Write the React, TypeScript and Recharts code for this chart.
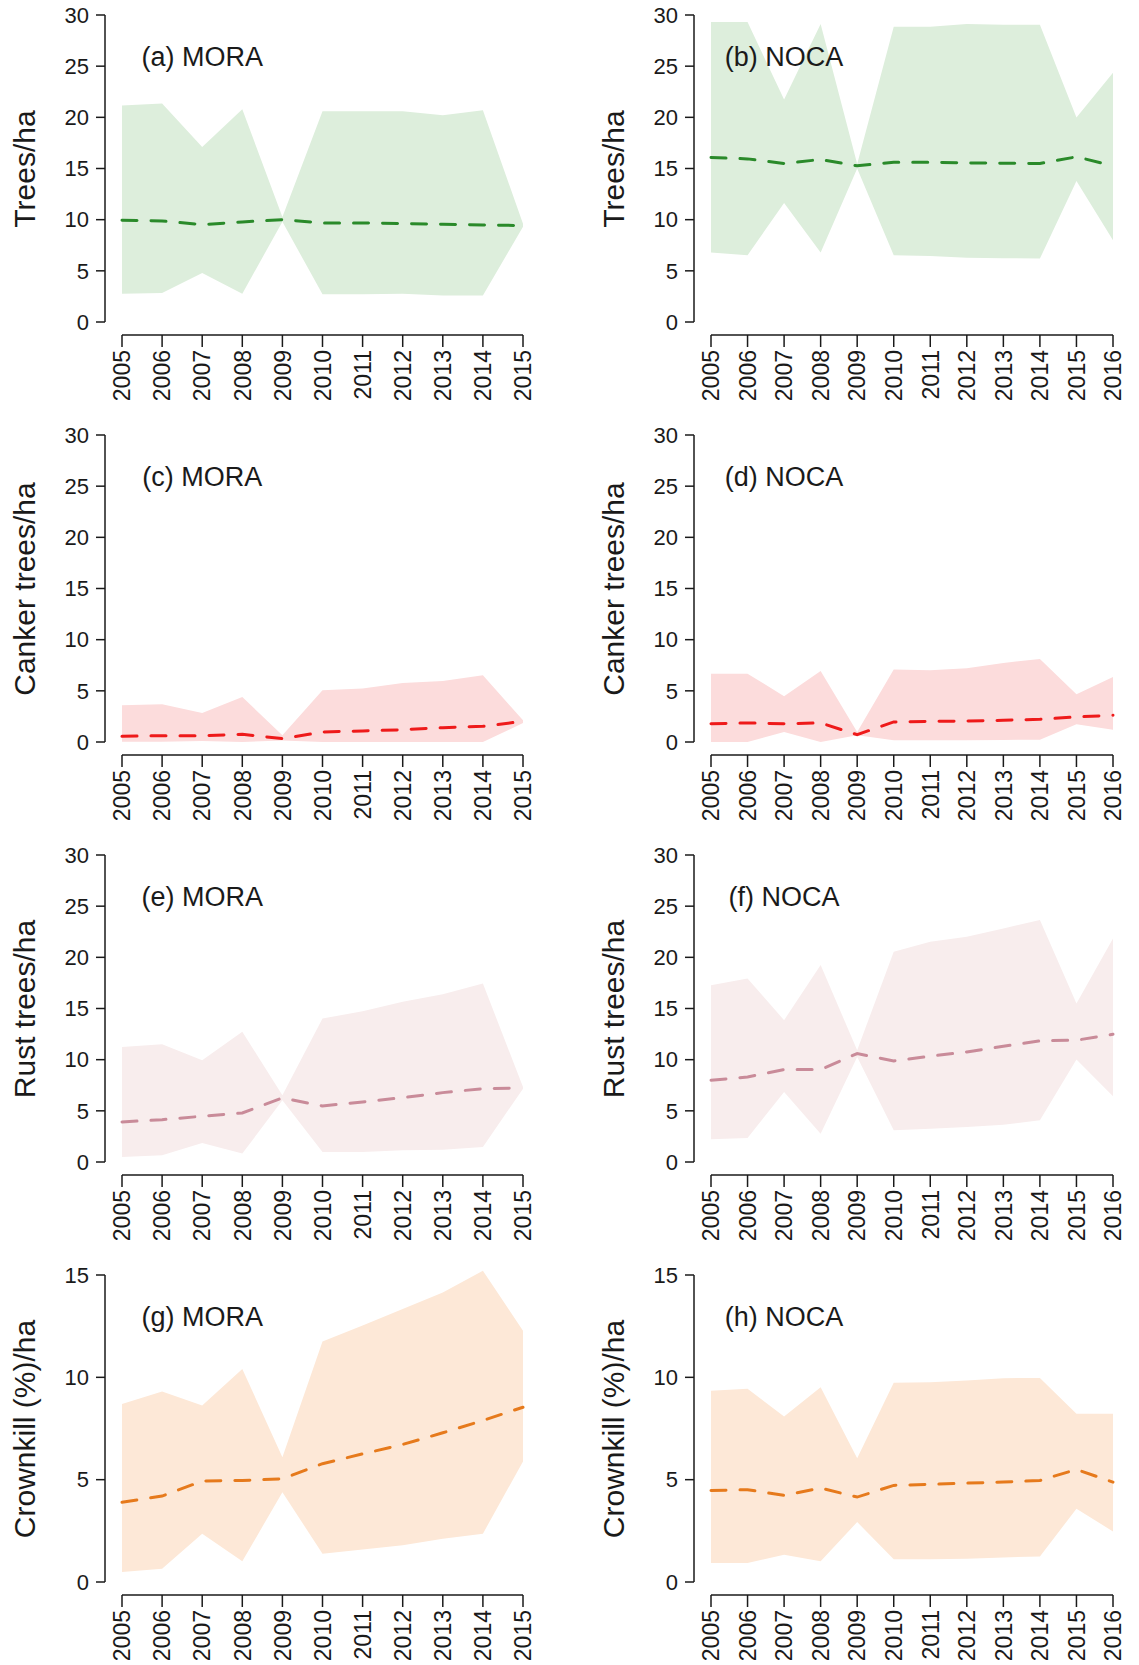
import React from "react";
import {
  ComposedChart,
  Area,
  Line,
  XAxis,
  YAxis,
  ReferenceDot,
} from "recharts";

const FONT = '"Liberation Sans", Arial, Helvetica, sans-serif';
const INK = "#1a1a1a";

const yearsMora = [2005, 2006, 2007, 2008, 2009, 2010, 2011, 2012, 2013, 2014, 2015];
const yearsNoca = [2005, 2006, 2007, 2008, 2009, 2010, 2011, 2012, 2013, 2014, 2015, 2016];

const ticks30 = [0, 5, 10, 15, 20, 25, 30];
const ticks15 = [0, 5, 10, 15];

// (a) MORA trees/ha
const moraTreesMean = [9.94, 9.88, 9.52, 9.78, 10.0, 9.68, 9.68, 9.62, 9.55, 9.49, 9.42];
const moraTreesHi = [21.16, 21.36, 17.1, 20.8, 10.25, 20.6, 20.6, 20.6, 20.2, 20.7, 9.6];
const moraTreesLo = [2.77, 2.84, 4.79, 2.77, 9.8, 2.7, 2.7, 2.77, 2.6, 2.6, 9.3];

// (b) NOCA trees/ha
const nocaTreesMean = [16.07, 15.94, 15.49, 15.88, 15.26, 15.62, 15.62, 15.55, 15.52, 15.49, 16.14, 15.26];
const nocaTreesHi = [29.31, 29.31, 21.75, 29.12, 15.45, 28.86, 28.86, 29.12, 29.05, 29.05, 19.99, 24.36];
const nocaTreesLo = [6.78, 6.52, 11.64, 6.78, 15.0, 6.52, 6.45, 6.29, 6.23, 6.2, 13.79, 7.99];

// (c) MORA canker trees/ha
const moraCankerMean = [0.55, 0.62, 0.62, 0.75, 0.33, 0.98, 1.08, 1.2, 1.4, 1.53, 2.02];
const moraCankerHi = [3.59, 3.68, 2.84, 4.4, 0.65, 5.05, 5.22, 5.77, 5.97, 6.52, 2.12];
const moraCankerLo = [0.02, 0.02, 0.1, 0.0, 0.15, 0.0, 0.0, 0.0, 0.0, 0.0, 1.85];

// (d) NOCA canker trees/ha
const nocaCankerMean = [1.79, 1.86, 1.79, 1.86, 0.72, 1.96, 2.02, 2.05, 2.12, 2.22, 2.45, 2.61];
const nocaCankerHi = [6.68, 6.68, 4.47, 6.94, 0.98, 7.08, 7.01, 7.21, 7.73, 8.12, 4.66, 6.36];
const nocaCankerLo = [0.0, 0.0, 0.98, 0.0, 0.65, 0.16, 0.16, 0.16, 0.2, 0.23, 1.73, 1.2];

// (e) MORA rust trees/ha
const moraRustMean = [3.91, 4.14, 4.47, 4.79, 6.26, 5.48, 5.87, 6.29, 6.78, 7.17, 7.24];
const moraRustHi = [11.25, 11.51, 9.94, 12.72, 6.52, 14.02, 14.74, 15.65, 16.4, 17.44, 7.34];
const moraRustLo = [0.49, 0.65, 1.86, 0.82, 6.03, 0.98, 0.98, 1.14, 1.2, 1.47, 7.17];

// (f) NOCA rust trees/ha
const nocaRustMean = [7.99, 8.31, 9.03, 9.03, 10.6, 9.88, 10.34, 10.76, 11.31, 11.84, 11.9, 12.49];
const nocaRustHi = [17.28, 17.93, 13.86, 19.24, 10.92, 20.54, 21.52, 22.01, 22.82, 23.64, 15.49, 21.85];
const nocaRustLo = [2.22, 2.35, 6.85, 2.77, 10.27, 3.1, 3.26, 3.42, 3.65, 4.08, 10.01, 6.42];

// (g) MORA crownkill (%)/ha
const moraCrownMean = [3.9, 4.2, 4.93, 4.96, 5.04, 5.78, 6.26, 6.72, 7.29, 7.89, 8.54];
const moraCrownHi = [8.7, 9.31, 8.62, 10.41, 6.1, 11.75, 12.53, 13.34, 14.15, 15.21, 12.28];
const moraCrownLo = [0.49, 0.65, 2.36, 1.01, 4.39, 1.38, 1.59, 1.79, 2.11, 2.36, 5.89];

// (h) NOCA crownkill (%)/ha
const nocaCrownMean = [4.47, 4.51, 4.23, 4.59, 4.15, 4.72, 4.77, 4.83, 4.88, 4.96, 5.5, 4.88];
const nocaCrownHi = [9.34, 9.44, 8.09, 9.52, 6.05, 9.73, 9.76, 9.84, 9.96, 9.97, 8.22, 8.22];
const nocaCrownLo = [0.93, 0.93, 1.33, 1.01, 2.93, 1.11, 1.11, 1.14, 1.2, 1.25, 3.58, 2.47];

const GREEN = { line: "#2a8a2a", fill: "#ddeedc" };
const RED = { line: "#ee1a1a", fill: "#fcdcdc" };
const RUST = { line: "#c98b99", fill: "#f8eded" };
const ORANGE = { line: "#e67a1c", fill: "#fde8d7" };

const COLS = [
  { left: 0, width: 570, axisX: 105, firstX: 122, lastX: 523 },
  { left: 570, width: 569, axisX: 124, firstX: 141, lastX: 543 },
];
const ROW_H = 420;
const PLOT_TOP = 15;
const ZERO_Y = 322;
const AXIS_Y = 335;
const CHART_TOP = 3;

const panels = [
  { label: "(a) MORA", title: "Trees/ha", col: 0, row: 0, years: yearsMora, mean: moraTreesMean, lo: moraTreesLo, hi: moraTreesHi, yMax: 30, yTicks: ticks30, labelY: 26, color: GREEN },
  { label: "(b) NOCA", title: "Trees/ha", col: 1, row: 0, years: yearsNoca, mean: nocaTreesMean, lo: nocaTreesLo, hi: nocaTreesHi, yMax: 30, yTicks: ticks30, labelY: 26, color: GREEN },
  { label: "(c) MORA", title: "Canker trees/ha", col: 0, row: 1, years: yearsMora, mean: moraCankerMean, lo: moraCankerLo, hi: moraCankerHi, yMax: 30, yTicks: ticks30, labelY: 26, color: RED },
  { label: "(d) NOCA", title: "Canker trees/ha", col: 1, row: 1, years: yearsNoca, mean: nocaCankerMean, lo: nocaCankerLo, hi: nocaCankerHi, yMax: 30, yTicks: ticks30, labelY: 26, color: RED },
  { label: "(e) MORA", title: "Rust trees/ha", col: 0, row: 2, years: yearsMora, mean: moraRustMean, lo: moraRustLo, hi: moraRustHi, yMax: 30, yTicks: ticks30, labelY: 26, color: RUST },
  { label: "(f) NOCA", title: "Rust trees/ha", col: 1, row: 2, years: yearsNoca, mean: nocaRustMean, lo: nocaRustLo, hi: nocaRustHi, yMax: 30, yTicks: ticks30, labelY: 26, color: RUST },
  { label: "(g) MORA", title: "Crownkill (%)/ha", col: 0, row: 3, years: yearsMora, mean: moraCrownMean, lo: moraCrownLo, hi: moraCrownHi, yMax: 15, yTicks: ticks15, labelY: 13, color: ORANGE },
  { label: "(h) NOCA", title: "Crownkill (%)/ha", col: 1, row: 3, years: yearsNoca, mean: nocaCrownMean, lo: nocaCrownLo, hi: nocaCrownHi, yMax: 15, yTicks: ticks15, labelY: 13, color: ORANGE },
];

function YearTick(props: any) {
  const { x, y, payload } = props;
  const fs = 23;
  return (
    <text
      transform={`translate(${x + fs * 0.36},${y}) rotate(-90)`}
      textAnchor="end"
      fontSize={fs}
      fontFamily={FONT}
      fill={INK}
    >
      {payload.value}
    </text>
  );
}

function Panel({ p }: { p: (typeof panels)[number] }) {
  const col = COLS[p.col];
  const rows = p.years.map((year, i) => ({
    year,
    mean: p.mean[i],
    band: [p.lo[i], p.hi[i]],
  }));
  const ppu = (ZERO_Y - PLOT_TOP) / p.yMax;
  const dMin = -(AXIS_Y - ZERO_Y) / ppu;
  const dMax = p.yMax + (PLOT_TOP - CHART_TOP) / ppu;
  const lastYear = p.years[p.years.length - 1];
  const labelYear = 2007;

  return (
    <div
      style={{
        position: "absolute",
        left: col.left,
        top: p.row * ROW_H,
        width: col.width,
        height: ROW_H,
      }}
    >
      <div style={{ position: "absolute", left: 0, top: 0 }}>
        <ComposedChart
          width={col.width}
          height={ROW_H}
          data={rows}
          margin={{ top: CHART_TOP, bottom: 0, left: col.firstX, right: col.width - col.lastX }}
        >
          <XAxis
            dataKey="year"
            type="number"
            domain={[p.years[0], lastYear]}
            ticks={p.years}
            interval={0}
            height={ROW_H - AXIS_Y}
            tickSize={12}
            tickMargin={3}
            axisLine={{ stroke: INK, strokeWidth: 1.5 }}
            tickLine={{ stroke: INK, strokeWidth: 1.5 }}
            tick={<YearTick />}
          />
          <YAxis hide width={0} type="number" domain={[dMin, dMax]} allowDataOverflow />
          <Area
            dataKey="band"
            type="linear"
            stroke="none"
            fill={p.color.fill}
            fillOpacity={1}
            isAnimationActive={false}
            activeDot={false}
          />
          <Line
            dataKey="mean"
            type="linear"
            stroke={p.color.line}
            strokeWidth={3}
            strokeDasharray="15 14"
            strokeLinecap="round"
            dot={false}
            activeDot={false}
            isAnimationActive={false}
          />
          <ReferenceDot
            x={labelYear}
            y={p.labelY}
            r={0}
            fill="none"
            stroke="none"
            ifOverflow="visible"
            label={{
              value: p.label,
              position: "center",
              fontSize: 27,
              fontFamily: FONT,
              fill: INK,
            }}
          />
        </ComposedChart>
      </div>
      <div style={{ position: "absolute", left: 0, top: 0, pointerEvents: "none" }}>
        <ComposedChart
          width={col.width}
          height={ROW_H}
          data={rows}
          margin={{ top: PLOT_TOP, bottom: ROW_H - ZERO_Y, left: 0, right: col.width - col.lastX - 15 }}
        >
          <XAxis dataKey="year" type="number" domain={[p.years[0], lastYear]} hide height={0} />
          <YAxis
            type="number"
            domain={[0, p.yMax]}
            allowDataOverflow
            ticks={p.yTicks}
            interval={0}
            width={col.axisX}
            tickSize={9}
            tickMargin={7}
            axisLine={{ stroke: INK, strokeWidth: 1.5 }}
            tickLine={{ stroke: INK, strokeWidth: 1.5 }}
            tick={{ fontSize: 22, fontFamily: FONT, fill: INK }}
          />
          {/* invisible series so the y axis gets a scale and draws its ticks */}
          <Line
            dataKey="mean"
            stroke="none"
            dot={false}
            activeDot={false}
            isAnimationActive={false}
          />
        </ComposedChart>
      </div>
      <div
        style={{
          position: "absolute",
          left: col.axisX - 80,
          top: (PLOT_TOP + ZERO_Y) / 2,
          transform: "translate(-50%, -50%) rotate(-90deg)",
          whiteSpace: "nowrap",
          fontFamily: FONT,
          fontSize: 30,
          lineHeight: 1,
          color: INK,
        }}
      >
        {p.title}
      </div>
    </div>
  );
}

export default function App() {
  return (
    <div
      style={{
        position: "absolute",
        left: 0,
        top: 0,
        width: 1139,
        height: 1665,
        overflow: "hidden",
        background: "#fff",
      }}
    >
      {panels.map((p) => (
        <Panel key={p.label} p={p} />
      ))}
    </div>
  );
}
